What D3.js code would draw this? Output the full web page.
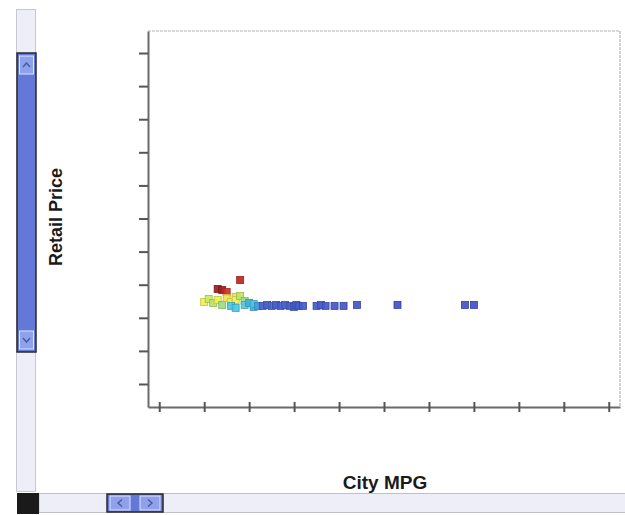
<!DOCTYPE html>
<html>
<head>
<meta charset="utf-8">
<script src="https://cdn.jsdelivr.net/npm/d3@7"></script>
<style>
  html, body { margin: 0; padding: 0; background: #fff; }
  svg { display: block; }
  text { font-family: "Liberation Sans", Arial, sans-serif; }
</style>
</head>
<body>
<svg id="chart" width="625" height="515"></svg>
<script>
// ---- Data (axes are unlabelled) ----
const cityMPG = [18, 13, 14, 15, 10, 11, 12, 13, 14, 15, 16, 17, 17, 18, 19, 16, 17, 19, 20, 21, 21, 22,
                 23, 24, 25, 26, 27, 28, 29, 30, 30.5, 31, 32, 35, 36, 37, 39, 41, 44, 53, 68, 70];
const retailPrice = [31400, 28700, 28400, 27800, 24800, 25700, 24500, 25400, 23900, 26000, 24800, 26300, 25400, 26600, 25100,
                     23600, 23000, 23900, 24500, 23300, 24200, 23600,
                     23600, 23900, 23600, 23900, 23600, 23900, 23600, 23300, 23900, 23600, 23600, 23600, 23900, 23600,
                     23600, 23600, 23900, 23900, 23900, 23900];
const horsepower = [320, 350, 345, 300, 225, 210, 200, 225, 190, 230, 225, 230, 225, 205, 190,
                    160, 160, 165, 150, 150, 160, 145,
                    120, 115, 120, 115, 112, 118, 110, 112, 115, 110, 110, 108, 110, 108,
                    105, 105, 105, 100, 100, 100];
const xTickValues = [0, 10, 20, 30, 40, 50, 60, 70, 80, 90, 100];
const yTickValues = [0, 10000, 20000, 30000, 40000, 50000, 60000, 70000, 80000, 90000, 100000];
const xLabel = "City MPG";
const yLabel = "Retail Price";

const points = cityMPG.map((m, i) => ({ mpg: m, price: retailPrice[i], hp: horsepower[i] }));

const svg = d3.select("#chart");

// ---- Layout ----
const plot = { left: 148, top: 31, right: 620, bottom: 407 };

const x = d3.scaleLinear().domain([-2.5, 102.5]).range([plot.left, plot.right]);
const y = d3.scaleLinear().domain([-6950, 106650]).range([plot.bottom, plot.top]);
const color = d3.scaleLinear()
  .domain([100, 125, 160, 195, 225, 300, 350])
  .range(["#4350c4", "#4a6cd0", "#48c8e8", "#a8e070", "#f2f052", "#d03028", "#9a1c1c"])
  .clamp(true);

// ---- Frame (top/right light) ----
svg.append("path")
  .attr("d", `M${plot.left},${plot.top}H${plot.right}V${plot.bottom}`)
  .attr("fill", "none").attr("stroke", "#b4b4b4").attr("stroke-width", 1.2)
  .attr("stroke-dasharray", "3,1");

// ---- Axes ----
const xAxis = d3.axisBottom(x).tickValues(xTickValues).tickFormat("").tickSizeOuter(0).tickSizeInner(5);
const gx = svg.append("g").attr("transform", `translate(0,${plot.bottom})`).call(xAxis);
gx.select(".domain").attr("stroke", "#6a6a6a").attr("stroke-width", 2);
gx.selectAll(".tick line").attr("stroke", "#555").attr("stroke-width", 2).attr("y1", -5).attr("y2", 5);

const yAxis = d3.axisLeft(y).tickValues(yTickValues).tickFormat("").tickSizeOuter(0).tickSizeInner(9);
const gy = svg.append("g").attr("transform", `translate(${plot.left},0)`).call(yAxis);
gy.select(".domain").attr("stroke", "#6a6a6a").attr("stroke-width", 2);
gy.selectAll(".tick line").attr("stroke", "#555").attr("stroke-width", 2);

// ---- Points ----
const s = 7;
svg.append("g").selectAll("rect").data(points).join("rect")
  .attr("x", d => x(d.mpg) - s / 2)
  .attr("y", d => y(d.price) - s / 2)
  .attr("width", s).attr("height", s)
  .attr("fill", d => color(d.hp))
  .attr("stroke", d => d3.color(color(d.hp)).darker(0.6))
  .attr("stroke-width", 0.8)
  .attr("fill-opacity", 0.92);

// ---- Axis titles ----
svg.append("text").attr("x", (plot.left + plot.right) / 2 + 1).attr("y", 489)
  .attr("text-anchor", "middle").attr("font-size", 19).attr("font-weight", "bold").attr("fill", "#1a1a1a")
  .text(xLabel);
svg.append("text").attr("transform", `translate(62,${(plot.top + plot.bottom) / 2 - 2}) rotate(-90)`)
  .attr("text-anchor", "middle").attr("font-size", 18).attr("font-weight", "bold").attr("fill", "#1a1a1a")
  .text(yLabel);

// ---- Vertical scrollbar ----
const vs = svg.append("g");
vs.append("rect").attr("x", 16.5).attr("y", 9.5).attr("width", 19).attr("height", 482)
  .attr("fill", "#eeeef8").attr("stroke", "#c8c8d4").attr("stroke-width", 1);
vs.append("rect").attr("x", 17).attr("y", 53).attr("width", 19).attr("height", 299)
  .attr("fill", "#6478d8").attr("stroke", "#2a2a2a").attr("stroke-width", 1.5);
[[56, "up"], [331, "down"]].forEach(([yy, dir]) => {
  vs.append("rect").attr("x", 19.5).attr("y", yy).attr("width", 14).attr("height", 18)
    .attr("fill", "#8ea2ec").attr("stroke", "#dfe6ff").attr("stroke-width", 1);
  const cy = yy + 9;
  const d = dir === "up" ? `M23,${cy + 2}L26.5,${cy - 2}L30,${cy + 2}` : `M23,${cy - 2}L26.5,${cy + 2}L30,${cy - 2}`;
  vs.append("path").attr("d", d).attr("fill", "none").attr("stroke", "#4a5aa8").attr("stroke-width", 1.5);
});

// ---- Horizontal scrollbar ----
const hs = svg.append("g");
hs.append("rect").attr("x", 39).attr("y", 493.5).attr("width", 590).attr("height", 19)
  .attr("fill", "#eeeef8").attr("stroke", "#c0c0cc").attr("stroke-width", 1);
hs.append("rect").attr("x", 17).attr("y", 493).attr("width", 22).attr("height", 21).attr("fill", "#1a1a1a");
hs.append("rect").attr("x", 107).attr("y", 494).attr("width", 56).attr("height", 18)
  .attr("fill", "#6478d8").attr("stroke", "#2a2a2a").attr("stroke-width", 1.5);
[[110, "left"], [140, "right"]].forEach(([xx, dir]) => {
  hs.append("rect").attr("x", xx).attr("y", 496).attr("width", 20).attr("height", 14)
    .attr("fill", "#8ea2ec").attr("stroke", "#dfe6ff").attr("stroke-width", 1);
  const cx = xx + 10, cy = 503;
  const d = dir === "left" ? `M${cx + 2},${cy - 3.5}L${cx - 2},${cy}L${cx + 2},${cy + 3.5}` : `M${cx - 2},${cy - 3.5}L${cx + 2},${cy}L${cx - 2},${cy + 3.5}`;
  hs.append("path").attr("d", d).attr("fill", "none").attr("stroke", "#4a5aa8").attr("stroke-width", 1.5);
});
</script>
</body>
</html>
